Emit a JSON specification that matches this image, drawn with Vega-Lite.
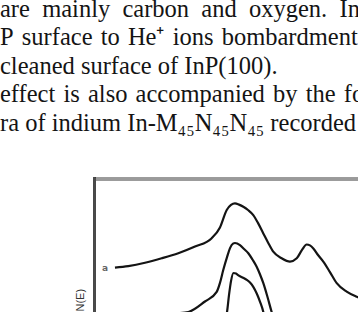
{
  "$schema": "https://vega.github.io/schema/vega-lite/v6.json",
  "width": 358,
  "height": 312,
  "autosize": {"type": "none"},
  "padding": 0,
  "background": "white",
  "config": {"view": {"stroke": null}},
  "datasets": {
    "page": [
      {"line": 1, "text": "are\u2002mainly\u2002carbon\u2002and\u2002oxygen.\u2002In"},
      {"line": 2, "text": "P\u2004surface\u2004to\u2004He\u207A\u2004ions\u2004bombardment"},
      {"line": 3, "text": "cleaned surface of InP(100)."},
      {"line": 4, "text": "effect\u2004is\u2004also\u2004accompanied\u2004by\u2004the\u2004formation"},
      {"line": 5, "text": "ra of indium In-M\u2084\u2085N\u2084\u2085N\u2084\u2085 recorded"}
    ],
    "spectra": [
      {"curve": "a", "E": 386.56, "I": 14.8},
      {"curve": "a", "E": 387.90, "I": 15.3},
      {"curve": "a", "E": 389.58, "I": 16.4},
      {"curve": "a", "E": 391.26, "I": 17.9},
      {"curve": "a", "E": 392.93, "I": 19.6},
      {"curve": "a", "E": 394.61, "I": 21.8},
      {"curve": "a", "E": 396.29, "I": 24.6},
      {"curve": "a", "E": 397.12, "I": 28.2},
      {"curve": "a", "E": 397.80, "I": 34.0},
      {"curve": "a", "E": 398.23, "I": 35.7},
      {"curve": "a", "E": 398.63, "I": 36.2},
      {"curve": "a", "E": 399.03, "I": 35.8},
      {"curve": "a", "E": 399.47, "I": 35.1},
      {"curve": "a", "E": 399.94, "I": 34.0},
      {"curve": "a", "E": 400.47, "I": 32.3},
      {"curve": "a", "E": 400.94, "I": 29.7},
      {"curve": "a", "E": 401.48, "I": 26.2},
      {"curve": "a", "E": 401.95, "I": 23.2},
      {"curve": "a", "E": 402.48, "I": 20.1},
      {"curve": "a", "E": 403.33, "I": 17.9},
      {"curve": "a", "E": 404.16, "I": 16.8},
      {"curve": "a", "E": 404.84, "I": 17.9},
      {"curve": "a", "E": 405.37, "I": 20.7},
      {"curve": "a", "E": 405.84, "I": 22.5},
      {"curve": "a", "E": 406.17, "I": 22.2},
      {"curve": "a", "E": 406.51, "I": 21.2},
      {"curve": "a", "E": 406.98, "I": 19.0},
      {"curve": "a", "E": 407.51, "I": 16.8},
      {"curve": "a", "E": 408.18, "I": 13.3},
      {"curve": "a", "E": 408.86, "I": 9.6},
      {"curve": "a", "E": 409.86, "I": 6.8},
      {"curve": "a", "E": 410.87, "I": 5.1},
      {"curve": "a", "E": 411.70, "I": 4.0},
      {"curve": "b", "E": 386.56, "I": -1.3},
      {"curve": "b", "E": 390.08, "I": -1.0},
      {"curve": "b", "E": 392.60, "I": -0.5},
      {"curve": "b", "E": 393.94, "I": 0.0},
      {"curve": "b", "E": 395.61, "I": 3.5},
      {"curve": "b", "E": 396.79, "I": 6.7},
      {"curve": "b", "E": 397.12, "I": 9.7},
      {"curve": "b", "E": 397.45, "I": 14.0},
      {"curve": "b", "E": 397.83, "I": 18.3},
      {"curve": "b", "E": 398.13, "I": 21.3},
      {"curve": "b", "E": 398.43, "I": 22.8},
      {"curve": "b", "E": 398.63, "I": 23.0},
      {"curve": "b", "E": 399.13, "I": 22.3},
      {"curve": "b", "E": 399.54, "I": 21.0},
      {"curve": "b", "E": 399.97, "I": 19.6},
      {"curve": "b", "E": 400.39, "I": 17.5},
      {"curve": "b", "E": 400.81, "I": 15.1},
      {"curve": "b", "E": 401.15, "I": 12.5},
      {"curve": "b", "E": 401.48, "I": 9.6},
      {"curve": "b", "E": 401.90, "I": 5.0},
      {"curve": "b", "E": 402.32, "I": 0.0},
      {"curve": "b", "E": 402.65, "I": -3.3},
      {"curve": "c", "E": 386.56, "I": -9.3},
      {"curve": "c", "E": 395.11, "I": -6.7},
      {"curve": "c", "E": 397.60, "I": -3.0},
      {"curve": "c", "E": 397.83, "I": 0.0},
      {"curve": "c", "E": 398.03, "I": 5.7},
      {"curve": "c", "E": 398.23, "I": 10.3},
      {"curve": "c", "E": 398.48, "I": 13.0},
      {"curve": "c", "E": 398.73, "I": 12.8},
      {"curve": "c", "E": 398.98, "I": 12.2},
      {"curve": "c", "E": 399.39, "I": 11.5},
      {"curve": "c", "E": 399.81, "I": 10.7},
      {"curve": "c", "E": 400.14, "I": 9.8},
      {"curve": "c", "E": 400.47, "I": 8.4},
      {"curve": "c", "E": 400.84, "I": 6.0},
      {"curve": "c", "E": 401.15, "I": 3.4},
      {"curve": "c", "E": 401.48, "I": 0.0},
      {"curve": "c", "E": 401.65, "I": -2.7}
    ]
  },
  "resolve": {"scale": {"x": "independent", "y": "independent"}},
  "layer": [
    {
      "data": {"name": "page"},
      "mark": {"type": "text", "align": "left", "baseline": "alphabetic", "font": "Liberation Serif", "fontSize": 24.5, "color": "#141414"},
      "encoding": {
        "x": {"datum": 0, "type": "quantitative", "scale": {"domain": [0, 1], "nice": false, "zero": false}, "axis": null},
        "y": {"field": "line", "type": "quantitative", "scale": {"domain": [0.4035, 11.351], "reverse": true, "nice": false, "zero": false}, "axis": null},
        "text": {"field": "text"}
      }
    },
    {
      "data": {"name": "spectra"},
      "mark": {"type": "rule", "color": "#9a9a9a", "strokeWidth": 2.5, "clip": true},
      "encoding": {
        "x": {"datum": 384.5, "type": "quantitative", "scale": {"domain": [375, 411], "nice": false, "zero": false}, "axis": null},
        "x2": {"datum": 420},
        "y": {"datum": 44.33, "type": "quantitative", "scale": {"domain": [0, 104], "nice": false, "zero": false}, "axis": null}
      }
    },
    {
      "data": {"name": "spectra"},
      "mark": {"type": "rule", "color": "#4a4a4a", "strokeWidth": 1.8, "clip": true},
      "encoding": {
        "x": {"datum": 384.5, "type": "quantitative", "scale": {"domain": [375, 411], "nice": false, "zero": false}, "axis": null},
        "y": {"datum": 44.7, "type": "quantitative", "scale": {"domain": [0, 104], "nice": false, "zero": false}, "axis": null},
        "y2": {"datum": -20}
      }
    },
    {
      "data": {"name": "spectra"},
      "mark": {"type": "line", "color": "#141414", "strokeWidth": 2.2, "clip": true, "interpolate": "monotone"},
      "encoding": {
        "x": {"field": "E", "type": "quantitative", "scale": {"domain": [375, 411], "nice": false, "zero": false}, "axis": null},
        "y": {"field": "I", "type": "quantitative", "scale": {"domain": [0, 104], "nice": false, "zero": false}, "axis": null},
        "detail": {"field": "curve"}
      }
    },
    {
      "data": {"name": "spectra"},
      "transform": [
        {"joinaggregate": [{"op": "min", "field": "E", "as": "E0"}], "groupby": ["curve"]},
        {"filter": "datum.E == datum.E0"}
      ],
      "mark": {"type": "text", "align": "center", "baseline": "middle", "font": "DejaVu Sans", "fontSize": 9, "fontWeight": "bold", "color": "#666", "dx": -10, "clip": true},
      "encoding": {
        "x": {"field": "E", "type": "quantitative", "scale": {"domain": [375, 411], "nice": false, "zero": false}, "axis": null},
        "y": {"field": "I", "type": "quantitative", "scale": {"domain": [0, 104], "nice": false, "zero": false}, "axis": null},
        "text": {"field": "curve"}
      }
    },
    {
      "data": {"values": [{"title": "dN(E)"}]},
      "mark": {"type": "text", "angle": 270, "align": "right", "baseline": "middle", "font": "Liberation Sans", "fontSize": 11, "color": "#333", "clip": true},
      "encoding": {
        "x": {"datum": 383.15, "type": "quantitative", "scale": {"domain": [375, 411], "nice": false, "zero": false}, "axis": null},
        "y": {"datum": 7.7, "type": "quantitative", "scale": {"domain": [0, 104], "nice": false, "zero": false}, "axis": null},
        "text": {"field": "title"}
      }
    }
  ]
}
